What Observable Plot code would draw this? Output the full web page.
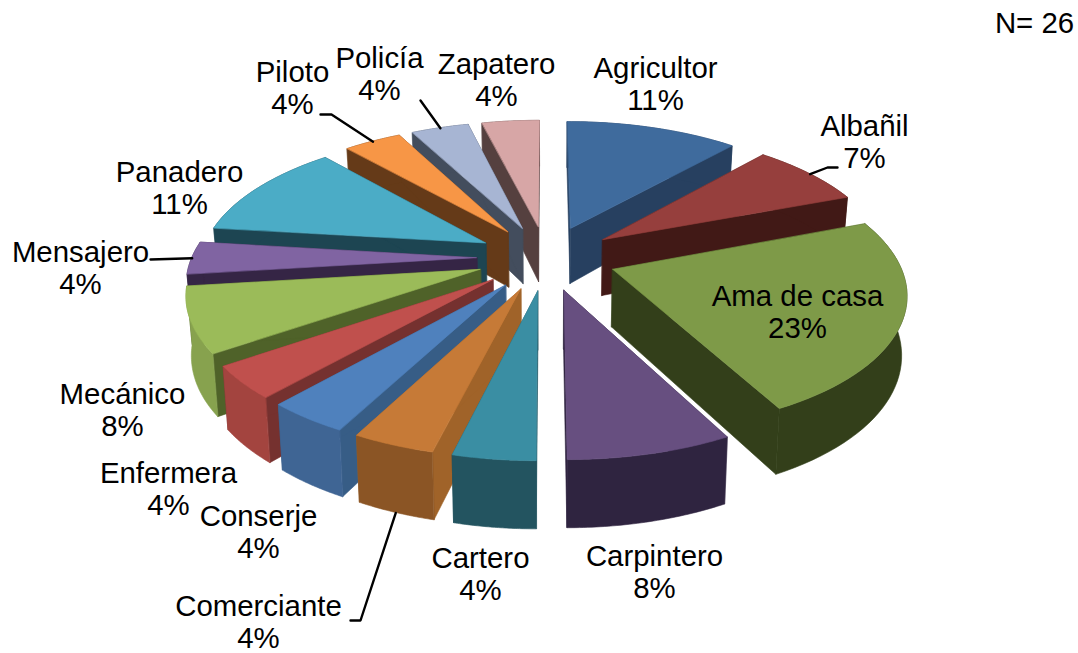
<!DOCTYPE html>
<html><head><meta charset="utf-8">
<style>html,body{margin:0;padding:0;background:#fff}svg{display:block}</style>
<script src="https://cdn.jsdelivr.net/npm/d3@7"></script>
<script src="https://cdn.jsdelivr.net/npm/@observablehq/plot@0.6"></script>
</head><body><div id="chart"></div>
<script>
// --- data ---
const categories = ["Agricultor","Albañil","Ama de casa","Carpintero","Cartero","Comerciante","Conserje","Enfermera","Mecánico","Mensajero","Panadero","Piloto","Policía","Zapatero"];
const counts = [3,2,6,2,1,1,1,1,2,1,3,1,1,1];
const percentLabels = [11,7,23,8,4,4,4,4,8,4,11,4,4,4];
const noteText = "N= 26";

// --- styles ---
const topColors  = ["#3f6b9d","#963f3d","#7e9a48","#674f80","#3a8ea3","#c67a37","#4f81bd","#c0504d","#9bbb59","#8064a2","#4bacc6","#f79646","#a7b5d3","#d7a6a6"];
const edgeColors = ["#274060","#411916","#333f1a","#2f2440","#235460","#a06329","#375d86","#75312f","#4f6229","#352545","#1d4552","#653a18","#434d5d","#55403f"];
const rimColors  = ["#274060","#411916","#333f1a","#2f2440","#235460","#8b5525","#3f6594","#a3443f","#87a24e","#352545","#1d4552","#653a18","#434d5d","#55403f"];

// --- layout (pie model and label placement) ---
const cx = 546.5, cy = 257.7, radiusX = 285, radiusY = 131.8, persp = 0.155, explode = 0.245;
const bottomScale = 0.985, depth0 = 57, depthV = 9;
const W = 1078, H = 653;
const labelPos = {Agricultor:[655,83],"Albañil":[864,141],"Ama de casa":[797,311],Carpintero:[654,571],Cartero:[480,573],Comerciante:[258,621],Conserje:[258,531],Enfermera:[168,488],"Mecánico":[122,409],Mensajero:[80,267],Panadero:[179,187],Piloto:[292,87],"Policía":[379,73],Zapatero:[496,79]};
const leaderElbows = {"Albañil":[[-27,26],[-37,26]],Piloto:[[28,27],[39,27]],"Policía":[[41,27]],Mensajero:[[70,-8]],Comerciante:[[92,-1],[102,-1]]};

const total = d3.sum(counts);
const rad = d => d * 2 * Math.PI;
function project(u, v, bottom) {
  const s = 1 / (1 - persp * v);
  const x = cx + radiusX * u * s * (bottom ? bottomScale : 1);
  const y = cy + radiusY * v * s + (bottom ? depth0 + depthV * v : 0);
  return [x, y];
}
let cum = 0;
const slices = categories.map((name, i) => {
  const a0 = rad(cum / total); cum += counts[i];
  const a1 = rad(cum / total), mid = (a0 + a1) / 2;
  return {name, i, a0, a1, mid, ou: explode * Math.sin(mid), ov: -explode * Math.cos(mid)};
});
const rimPoint = (s, a, bottom) => project(s.ou + Math.sin(a), s.ov - Math.cos(a), bottom);
const tipPoint = (s, bottom) => project(s.ou, s.ov, bottom);

const patches = [];
const addRow = (z, fill, p, q) => patches.push({z, fill, x1: p[0], y1: p[1], x2: q[0], y2: q[1]});
for (const s of d3.sort(slices, s => s.ov)) {
  const angles = d3.range(0, 41).map(k => s.a0 + (s.a1 - s.a0) * k / 40);
  const edge = edgeColors[s.i];
  for (const [tag, a] of [["a", s.a0], ["b", s.a1]]) {
    addRow(s.name + tag, edge, tipPoint(s, false), tipPoint(s, true));
    addRow(s.name + tag, edge, rimPoint(s, a, false), rimPoint(s, a, true));
  }
  for (const a of angles) addRow(s.name + "r", rimColors[s.i], rimPoint(s, a, false), rimPoint(s, a, true));
  for (const a of angles) addRow(s.name + "t", topColors[s.i], tipPoint(s, false), rimPoint(s, a, false));
}

const labels = slices.map(s => ({text: `${s.name}\n${percentLabels[s.i]}%`, x: labelPos[s.name][0], y: labelPos[s.name][1]}));
const leaders = [];
for (const s of slices) {
  const el = leaderElbows[s.name];
  if (!el) continue;
  const [lx, ly] = labelPos[s.name];
  for (const [dx, dy] of el) leaders.push({k: s.name, x: lx + dx, y: ly + dy});
  const end = rimPoint(s, s.mid, s.name === "Comerciante");
  leaders.push({k: s.name, x: end[0], y: end[1]});
}

const plot = Plot.plot({
  width: W, height: H, margin: 0,
  x: {domain: [0, W], range: [0, W], axis: null},
  y: {domain: [0, H], range: [0, H], axis: null},
  style: {background: "#fff", fontFamily: "'Liberation Sans', Arial, sans-serif"},
  marks: [
    Plot.area(patches, {x1: "x1", y1: "y1", x2: "x2", y2: "y2", z: "z", fill: "fill", stroke: "fill", strokeWidth: 0.6}),
    Plot.line(leaders, {x: "x", y: "y", z: "k", stroke: "#000", strokeWidth: 2.4}),
    Plot.text(labels, {x: "x", y: "y", text: "text", fontSize: 29.4, lineHeight: 1.11, fill: "#000", textAnchor: "middle", lineAnchor: "middle"}),
    Plot.text([noteText], {x: () => 1034, y: () => 23, text: d => d, fontSize: 29.4, fill: "#000", textAnchor: "middle", lineAnchor: "middle"})
  ]
});
document.getElementById("chart").append(plot);
</script></body></html>
